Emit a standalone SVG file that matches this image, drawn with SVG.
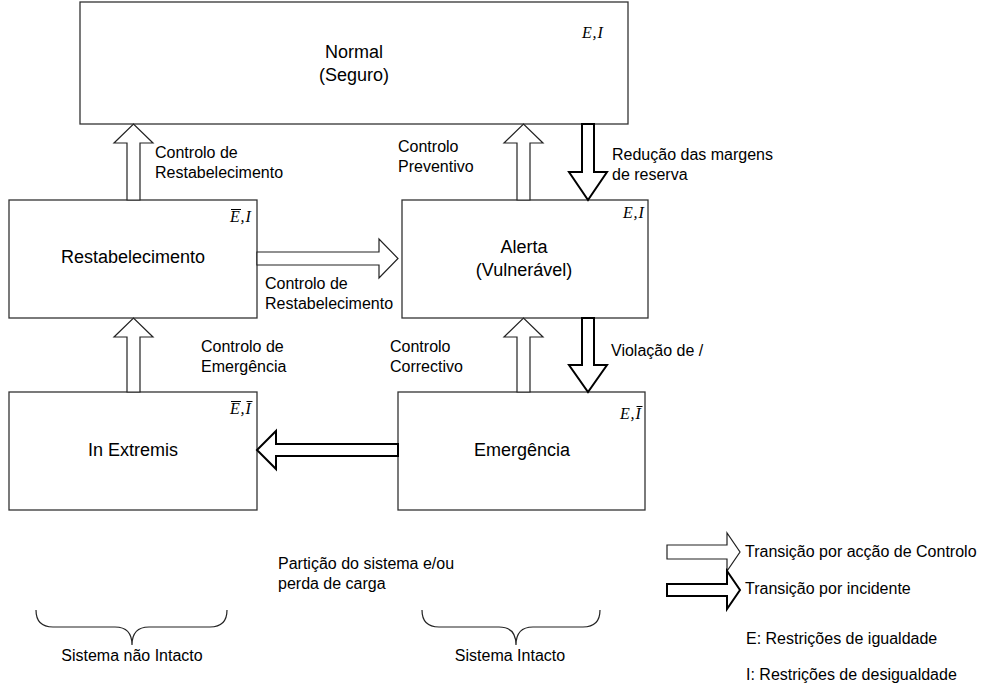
<svg xmlns="http://www.w3.org/2000/svg" width="988" height="684" viewBox="0 0 988 684">
  <style>
    .box { fill: #ffffff; stroke: #333333; stroke-width: 1.3; }
    .ctrl { fill: #ffffff; stroke: #222222; stroke-width: 1.2; stroke-linejoin: miter; }
    .inc { fill: #ffffff; stroke: #000000; stroke-width: 2; stroke-linejoin: miter; }
    .brace { fill: none; stroke: #222222; stroke-width: 1.2; }
    .t { font-family: "Liberation Sans", Arial, sans-serif; fill: #000000; }
    .big { font-size: 18px; text-anchor: middle; }
    .lbl { font-size: 16px; }
    .math { font-family: "Liberation Serif", "Times New Roman", serif; font-style: italic; font-size: 16px; fill: #000000; }
    .bar { stroke: #000000; stroke-width: 1; }
  </style>
  <rect width="988" height="684" fill="#ffffff"/>

  <!-- state boxes -->
  <g id="normal">
    <rect class="box" x="80" y="2" width="548" height="122"/>
    <text class="t big" x="354" y="58">Normal</text>
    <text class="t big" x="354" y="81">(Seguro)</text>
    <text class="math" x="582" y="38">E<tspan x="592.5">,</tspan><tspan x="597.5">I</tspan></text>
  </g>
  <g id="restabelecimento">
    <rect class="box" x="9" y="200" width="248" height="118"/>
    <text class="t big" x="133" y="263">Restabelecimento</text>
    <text class="math" x="230" y="222">E<tspan x="240.5">,</tspan><tspan x="245.5">I</tspan></text>
    <line class="bar" x1="231" y1="209.5" x2="241" y2="209.5"/>
  </g>
  <g id="alerta">
    <rect class="box" x="402" y="200" width="246" height="118"/>
    <text class="t big" x="524" y="253">Alerta</text>
    <text class="t big" x="524" y="276">(Vulnerável)</text>
    <text class="math" x="623" y="218">E<tspan x="633.5">,</tspan><tspan x="638.5">I</tspan></text>
  </g>
  <g id="in-extremis">
    <rect class="box" x="9" y="392" width="248" height="118"/>
    <text class="t big" x="133" y="456">In Extremis</text>
    <text class="math" x="230" y="414">E<tspan x="240.5">,</tspan><tspan x="245.5">I</tspan></text>
    <line class="bar" x1="231" y1="401.5" x2="241" y2="401.5"/>
    <line class="bar" x1="246.5" y1="401.5" x2="252.5" y2="401.5"/>
  </g>
  <g id="emergencia">
    <rect class="box" x="398" y="392" width="247" height="118"/>
    <text class="t big" x="522" y="456">Emergência</text>
    <text class="math" x="620" y="419">E<tspan x="630.5">,</tspan><tspan x="635.5">I</tspan></text>
    <line class="bar" x1="636.5" y1="406.5" x2="642.5" y2="406.5"/>
  </g>

  <!-- transitions -->
  <g id="connectors">
    <!-- control actions (thin outline) -->
    <polygon class="ctrl" points="127,200 127,143 114,143 133.5,124 153,143 140,143 140,200"/>
    <polygon class="ctrl" points="517,200 517,143 504,143 523.5,124 543,143 530,143 530,200"/>
    <polygon class="ctrl" points="127,392 127,337 114,337 133.5,318 153,337 140,337 140,392"/>
    <polygon class="ctrl" points="517,392 517,337 504,337 523.5,318 543,337 530,337 530,392"/>
    <polygon class="ctrl" points="257,252 379,252 379,239 398,258.5 379,278 379,265 257,265"/>
    <!-- incidents (heavy outline) -->
    <polygon class="inc" points="582,124 582,172 569,172 588,200 607,172 594,172 594,124"/>
    <polygon class="inc" points="582,318 582,365 569,365 588,392 607,365 594,365 594,318"/>
    <polygon class="inc" points="398,444 276,444 276,431 257,450 276,469 276,456 398,456"/>
  </g>

  <!-- transition labels -->
  <g id="labels">
    <text class="t lbl" x="155" y="158">Controlo de</text>
    <text class="t lbl" x="155" y="178">Restabelecimento</text>
    <text class="t lbl" x="398" y="152">Controlo</text>
    <text class="t lbl" x="398" y="172">Preventivo</text>
    <text class="t lbl" x="612" y="160">Redução das margens</text>
    <text class="t lbl" x="612" y="180">de reserva</text>
    <text class="t lbl" x="265" y="289">Controlo de</text>
    <text class="t lbl" x="265" y="309">Restabelecimento</text>
    <text class="t lbl" x="201" y="352">Controlo de</text>
    <text class="t lbl" x="201" y="372">Emergência</text>
    <text class="t lbl" x="390" y="352">Controlo</text>
    <text class="t lbl" x="390" y="372">Correctivo</text>
    <text class="t lbl" x="611" y="356">Violação de /</text>
    <text class="t lbl" x="278" y="569">Partição do sistema e/ou</text>
    <text class="t lbl" x="278" y="589">perda de carga</text>
  </g>

  <!-- groupings -->
  <g id="nao-intacto">
    <path class="brace" d="M36,610 Q36,627 53,627 L115,627 Q132,627 132,645 Q132,627 149,627 L210,627 Q227,627 227,610"/>
    <text class="t lbl" x="132" y="661" text-anchor="middle">Sistema não Intacto</text>
  </g>
  <g id="intacto">
    <path class="brace" d="M422,610 Q422,627 439,627 L499,627 Q516,627 516,645 Q516,627 533,627 L583,627 Q600,627 600,610"/>
    <text class="t lbl" x="510" y="661" text-anchor="middle">Sistema Intacto</text>
  </g>

  <!-- legend -->
  <g id="legend">
    <polygon class="ctrl" points="667,545 727,545 727,533 740,552 727,571 727,559 667,559"/>
    <text class="t lbl" x="745" y="557">Transição por acção de Controlo</text>
    <polygon class="inc" points="667,584 727,584 727,571 740,590 727,609 727,596 667,596"/>
    <text class="t lbl" x="745" y="594">Transição por incidente</text>
    <text class="t lbl" x="746" y="644">E: Restrições de igualdade</text>
    <text class="t lbl" x="746" y="680">I: Restrições de desigualdade</text>
  </g>
</svg>
